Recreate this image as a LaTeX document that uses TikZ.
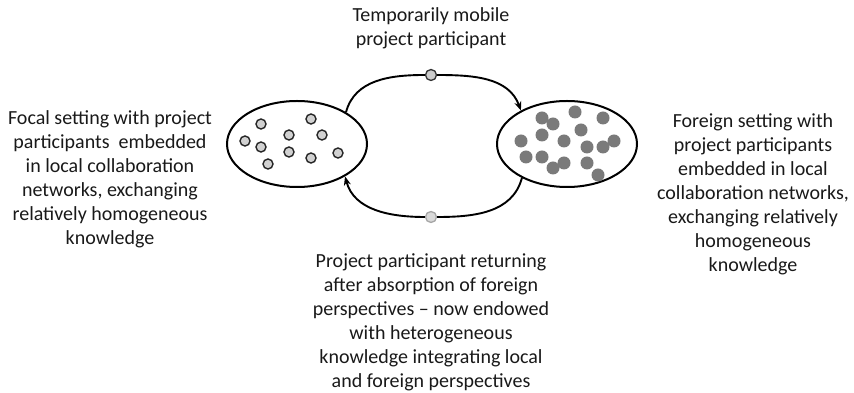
\documentclass[tikz,border=0pt]{standalone}
\usepackage{fontspec}
\setmainfont{Carlito}
\usetikzlibrary{arrows.meta,shapes.geometric,positioning}

\begin{document}
\begin{tikzpicture}[x=1pt,y=1pt,on grid,>={Stealth[length=9pt,width=7pt]},
  setting/.style={ellipse,draw,line width=2pt,minimum width=140pt,minimum height=86pt,inner sep=0pt},
  local/.style={circle,draw=black!85,line width=1.4pt,fill=black!18,minimum size=10pt,inner sep=0pt},
  foreign/.style={circle,fill=black!52,minimum size=13pt,inner sep=0pt},
  traveller/.style={circle,draw=black!80,line width=1.3pt,fill=black!20,minimum size=11pt,inner sep=0pt},
  returner/.style={circle,draw=black!35,line width=1.3pt,fill=black!15,minimum size=11pt,inner sep=0pt},
  note/.style={align=center,font=\fontsize{20}{24}\selectfont,text=black!90},
  trip/.style={line width=1.9pt}]
\useasboundingbox (0,0) rectangle (854,393);

\node[setting] (L) at (297,249) {};
\node[setting, right=270pt of L] (R) {};
\node[traveller, above right=69pt and 134pt of L] (out) {};
\node[returner, below right=73pt and 134pt of L] (back) {};

% members of the focal setting
\foreach \x/\y [count=\i] in {261/269, 311/274, 245/252, 261/246, 289/258,
    322/258, 289/241, 268/229, 311/235, 338/240}
  \node[local] (l\i) at (\x,\y) {};

% members of the foreign setting
\foreach \x/\y [count=\i] in {542/275, 553/269, 575/281, 603/275, 581/263,
    542/258, 521/252, 564/252, 587/246, 603/246, 614/252, 526/236,
    542/236, 553/225, 564/230, 587/230, 598/218}
  \node[foreign] (f\i) at (\x,\y) {};

\draw[trip] (L.33) to[out=75,in=180] (out.west);
\draw[trip,->] (out.east) to[out=0,in=110] (R.144);
\draw[trip] (R.217) to[out=-105,in=0] (back.east);
\draw[trip,->] (back.west) to[out=180,in=-75] (L.326);

\node[note, above=47pt of out] (toptext) {Temporarily mobile\\project participant};
\node[note, below left=35.5pt and 187pt of L] (lefttext) {Focal setting with project\\participants\ \ embedded\\in local collaboration\\networks, exchanging\\relatively homogeneous\\knowledge};
\node[note, below right=50pt and 186pt of R] (righttext) {Foreign setting with\\project participants\\embedded in local\\collaboration networks,\\exchanging relatively\\homogeneous\\knowledge};
\node[note, below=105pt of back] (bottext) {Project participant returning\\after absorption of foreign\\perspectives -- now endowed\\with heterogeneous\\knowledge integrating local\\and foreign perspectives};
\end{tikzpicture}
\end{document}
